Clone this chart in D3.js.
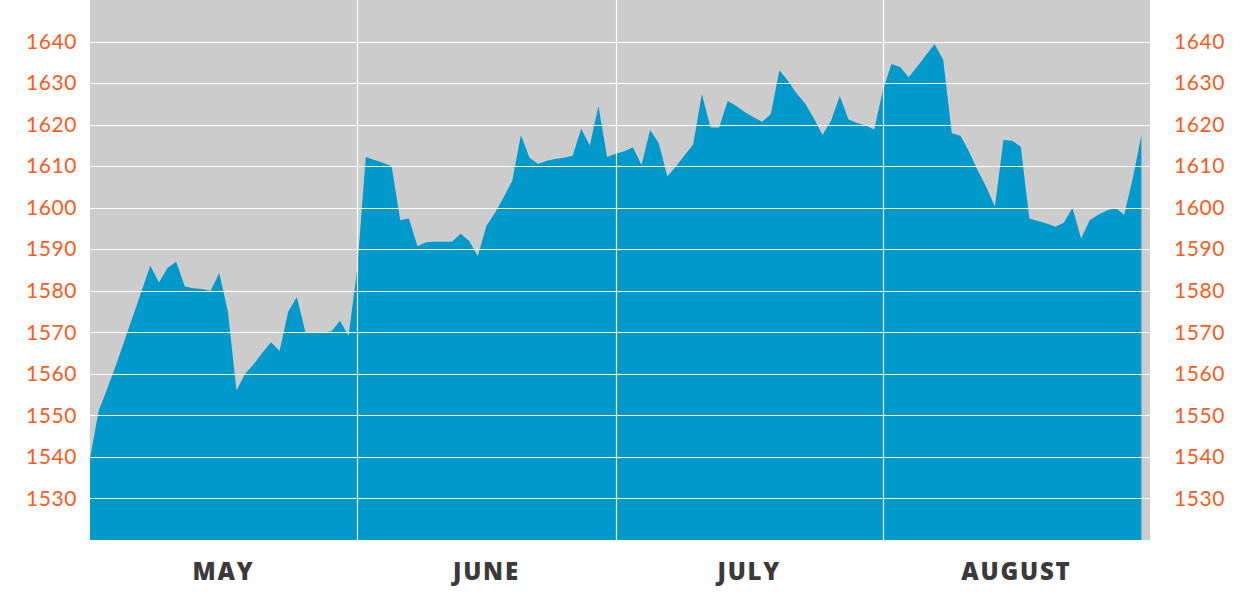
<!DOCTYPE html>
<html>
<head>
<meta charset="utf-8">
<script src="https://cdn.jsdelivr.net/npm/d3@7/dist/d3.min.js"></script>
<style>
  html, body { margin: 0; padding: 0; background: #ffffff; }
  svg { display: block; }
</style>
</head>
<body>
<svg id="chart" width="1240" height="600"></svg>
<script>
// ---- DATA ----
const mayValues = [1539.7, 1551, 1556.5, 1562, 1568, 1574, 1580, 1586, 1582, 1585.5,
  1587, 1581, 1580.6, 1580.4, 1580, 1584.3, 1575, 1556, 1560, 1562.3,
  1565.1, 1567.6, 1565.5, 1575, 1578.5, 1570, 1570, 1570, 1570.2, 1572.8, 1569.2];
const juneValues = [1585, 1612.2, 1611.5, 1610.8, 1610, 1597, 1597.4, 1590.7, 1591.7, 1591.8,
  1591.8, 1591.8, 1593.7, 1592, 1588.4, 1595.6, 1598.8, 1602.5, 1606.5, 1617.5,
  1612, 1610.5, 1611.3, 1611.7, 1612, 1612.5, 1619, 1615, 1624.5, 1612.2];
const julyValues = [1613, 1613.6, 1614.5, 1610.3, 1618.7, 1615.5, 1607.5, 1610, 1612.6, 1615.3,
  1627.4, 1619.3, 1619.3, 1625.7, 1624.5, 1623, 1621.8, 1620.7, 1622.5, 1633.1,
  1630.5, 1627.5, 1625, 1621.5, 1617.5, 1621, 1626.9, 1621.3, 1620.4, 1619.8, 1618.8];
const augustValues = [1628.3, 1634.6, 1633.9, 1631.4, 1634, 1636.7, 1639.4, 1635.6, 1617.9, 1617.3,
  1613.5, 1609, 1605, 1600.3, 1616.3, 1616.1, 1614.7, 1597.4, 1596.8, 1596.2,
  1595.4, 1596.4, 1600, 1592.6, 1597, 1598.3, 1599.3, 1600, 1598.3, 1607, 1617.5];
const monthNames = ["MAY", "JUNE", "JULY", "AUGUST"];
const monthStarts = ["2013-05-01", "2013-06-01", "2013-07-01", "2013-08-01", "2013-09-01"];
const yTicks = [1530, 1540, 1550, 1560, 1570, 1580, 1590, 1600, 1610, 1620, 1630, 1640];
const yDomain = [1520, 1650];

// ---- BUILD SERIES ----
const parse = d3.timeParse("%Y-%m-%d");
const series = [];
[mayValues, juneValues, julyValues, augustValues].forEach((vals, mi) => {
  const start = parse(monthStarts[mi]);
  vals.forEach((v, i) => series.push({ date: d3.timeDay.offset(start, i), value: v }));
});

// ---- LAYOUT ----
const svg = d3.select("#chart");
const plotL = 90, plotR = 1150, plotT = 0, plotB = 540;

const x = d3.scaleTime()
  .domain([parse(monthStarts[0]), parse(monthStarts[4])])
  .range([plotL, plotR]);
const y = d3.scaleLinear().domain(yDomain).range([plotB, plotT]);

// background
svg.append("rect")
  .attr("x", plotL).attr("y", plotT)
  .attr("width", plotR - plotL).attr("height", plotB - plotT)
  .attr("fill", "#cccccc");

// area
const area = d3.area()
  .x(d => x(d.date))
  .y0(plotB)
  .y1(d => y(d.value))
  .curve(d3.curveLinear);
svg.append("path")
  .datum(series)
  .attr("d", area)
  .attr("fill", "#0099cc");

// horizontal gridlines
svg.append("g").selectAll("line")
  .data(yTicks)
  .join("line")
  .attr("x1", plotL).attr("x2", plotR)
  .attr("y1", d => Math.round(y(d)) + 0.5).attr("y2", d => Math.round(y(d)) + 0.5)
  .attr("stroke", "#ffffff").attr("stroke-width", 1.2);

// vertical gridlines at month boundaries
svg.append("g").selectAll("line")
  .data(monthStarts.slice(1, 4))
  .join("line")
  .attr("x1", d => Math.round(x(parse(d))) + 0.5).attr("x2", d => Math.round(x(parse(d))) + 0.5)
  .attr("y1", plotT).attr("y2", plotB)
  .attr("stroke", "#ffffff").attr("stroke-width", 1.2);

// axis labels
const labelFont = "Lato, 'Open Sans', sans-serif";
const leftAxis = d3.axisLeft(y).tickValues(yTicks).tickSize(0).tickPadding(13).tickFormat(d3.format("d"));
const gl = svg.append("g").attr("transform", `translate(${plotL},0)`).call(leftAxis);
gl.select(".domain").remove();
gl.selectAll("text")
  .attr("fill", "#ff5a1a")
  .style("font-family", labelFont)
  .style("font-size", "21px")
  .style("letter-spacing", "0.6px");

const rightAxis = d3.axisRight(y).tickValues(yTicks).tickSize(0).tickPadding(24).tickFormat(d3.format("d"));
const gr = svg.append("g").attr("transform", `translate(${plotR},0)`).call(rightAxis);
gr.select(".domain").remove();
gr.selectAll("text")
  .attr("fill", "#ff5a1a")
  .style("font-family", labelFont)
  .style("font-size", "21px")
  .style("letter-spacing", "0.6px");

// month labels
svg.append("g").selectAll("text")
  .data(monthNames)
  .join("text")
  .attr("x", (d, i) => (x(parse(monthStarts[i])) + x(parse(monthStarts[i + 1]))) / 2)
  .attr("y", 580)
  .attr("text-anchor", "middle")
  .attr("fill", "#3a3a3a")
  .style("font-family", "'Open Sans', Lato, sans-serif")
  .style("font-weight", "800")
  .style("font-size", "24px")
  .style("letter-spacing", "1.8px")
  .text(d => d);
</script>
</body>
</html>
